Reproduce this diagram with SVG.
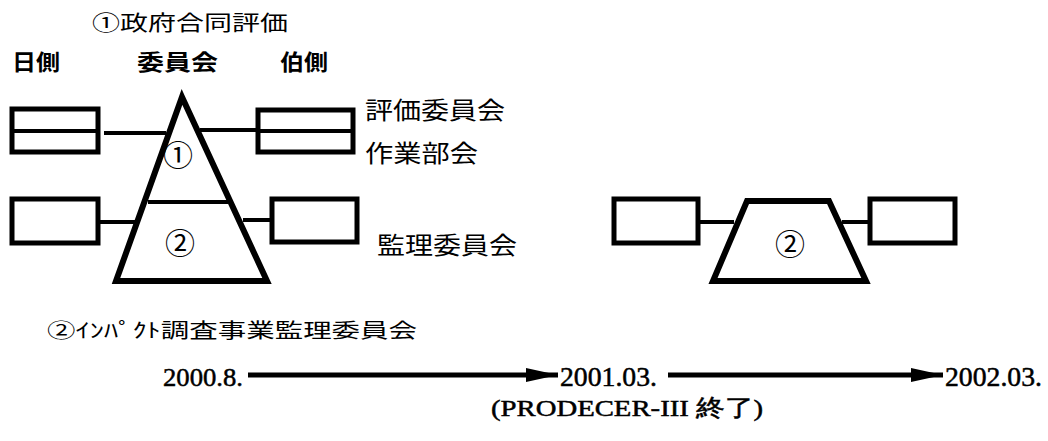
<svg xmlns="http://www.w3.org/2000/svg" width="1048" height="441" viewBox="0 0 1048 441">
<style>
.jp{font-family:"Noto Sans CJK JP","Noto Sans CJK SC",sans-serif;fill:#000}
.cn{font-family:"Noto Sans CJK JP","Noto Sans CJK SC",sans-serif;fill:#000;font-size:30px;text-anchor:middle}
.dt{font-family:"Liberation Serif",serif;fill:#000;stroke:#000;stroke-width:0.5}
.box{fill:#fff;stroke:#000;stroke-width:5}
.shape{fill:#fff;stroke:#000;stroke-width:6;stroke-linejoin:miter}
.ln{stroke:#000;stroke-width:4;fill:none}
.ar{stroke:#000;stroke-width:5;fill:none}
</style>
<defs>
<marker id="ah" markerWidth="32" markerHeight="14" refX="32" refY="7" orient="auto" markerUnits="userSpaceOnUse">
<path d="M0,0 L32,7 L0,14 Z" fill="#000"/>
</marker>
</defs>
<rect width="1048" height="441" fill="#fff"/>

<g id="labels">
<text class="jp" x="92" y="30" font-size="21" textLength="196" lengthAdjust="spacingAndGlyphs">①政府合同評価</text>
<text class="jp" x="12" y="70" font-size="22" font-weight="bold" textLength="48" lengthAdjust="spacingAndGlyphs">日側</text>
<text class="jp" x="137" y="70" font-size="22" font-weight="bold" textLength="81" lengthAdjust="spacingAndGlyphs">委員会</text>
<text class="jp" x="280" y="70" font-size="22" font-weight="bold" textLength="48" lengthAdjust="spacingAndGlyphs">伯側</text>
<text class="jp" x="365" y="119" font-size="24" textLength="140" lengthAdjust="spacingAndGlyphs">評価委員会</text>
<text class="jp" x="365" y="162" font-size="24" textLength="113" lengthAdjust="spacingAndGlyphs">作業部会</text>
<text class="jp" x="377" y="254" font-size="24" textLength="140" lengthAdjust="spacingAndGlyphs">監理委員会</text>
<text class="jp" x="47" y="338" font-size="20" textLength="370" lengthAdjust="spacingAndGlyphs">②ｲﾝﾊﾟｸﾄ調査事業監理委員会</text>
</g>

<g id="connectors">
<line class="ln" x1="104" y1="133" x2="166" y2="133"/>
<line class="ln" x1="200" y1="130" x2="258" y2="130"/>
<line class="ln" x1="98" y1="222" x2="136" y2="222"/>
<line class="ln" x1="243" y1="220" x2="272" y2="220"/>
<line class="ln" x1="698" y1="222" x2="734" y2="222"/>
<line class="ln" x1="842" y1="222" x2="870" y2="222"/>
<line class="ar" x1="248" y1="375" x2="558" y2="375" marker-end="url(#ah)"/>
<line class="ar" x1="668" y1="375" x2="943" y2="375" marker-end="url(#ah)"/>
</g>

<g id="committee-1">
<polygon class="shape" points="182,97 267,281 116,281"/>
<line class="ln" x1="148" y1="202" x2="228" y2="202" stroke-width="5"/>
<text class="cn" x="178" y="166">①</text>
<text class="cn" x="180" y="254">②</text>
</g>

<g id="jp-box-1">
<rect class="box" x="12" y="109" width="86" height="43"/>
<line class="ln" x1="12" y1="131" x2="98" y2="131" stroke-width="3"/>
</g>
<g id="br-box-1">
<rect class="box" x="258" y="110" width="95" height="42"/>
<line class="ln" x1="258" y1="131" x2="353" y2="131" stroke-width="3"/>
</g>
<g id="jp-box-2">
<rect class="box" x="12" y="199" width="86" height="44"/>
</g>
<g id="br-box-2">
<rect class="box" x="272" y="199" width="85" height="43"/>
</g>

<g id="committee-2">
<polygon class="shape" points="747,201 829,201 866,281 713,281"/>
<text class="cn" x="790" y="255">②</text>
</g>
<g id="jp-box-3">
<rect class="box" x="614" y="199" width="84" height="44"/>
</g>
<g id="br-box-3">
<rect class="box" x="870" y="199" width="85" height="44"/>
</g>

<g id="timeline">
<text class="dt" x="163" y="386" font-size="26" textLength="80" lengthAdjust="spacingAndGlyphs">2000.8.</text>
<text class="dt" x="560" y="386" font-size="27" textLength="97" lengthAdjust="spacingAndGlyphs">2001.03.</text>
<text class="dt" x="945" y="386" font-size="27" textLength="97" lengthAdjust="spacingAndGlyphs">2002.03.</text>
<text class="dt" x="491" y="416" font-size="24" textLength="272" lengthAdjust="spacingAndGlyphs">(PRODECER-III 終了)</text>
</g>
</svg>
